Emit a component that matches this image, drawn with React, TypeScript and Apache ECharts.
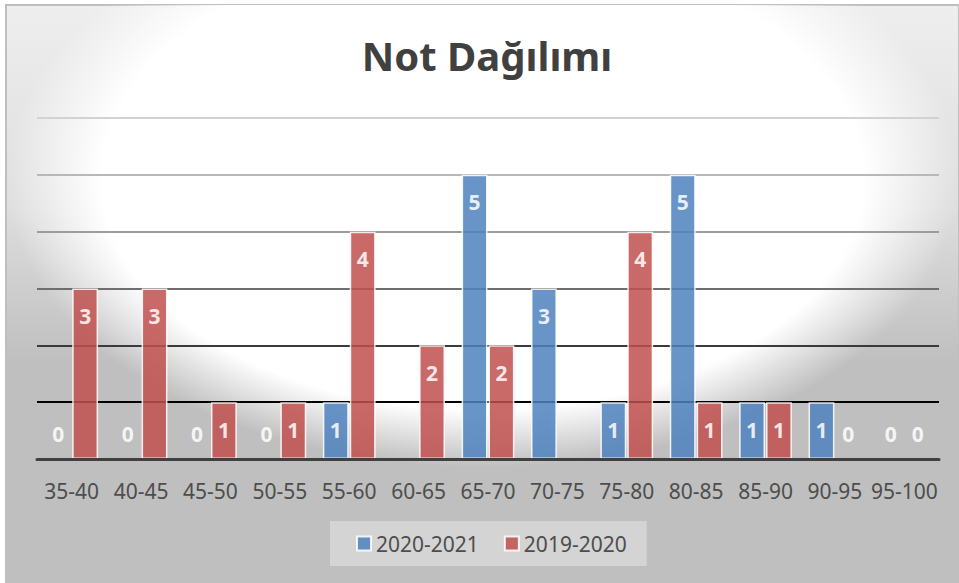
import React, { useEffect, useRef } from 'react';
import * as echarts from 'echarts';

const categories = ['35-40', '40-45', '45-50', '50-55', '55-60', '60-65', '65-70', '70-75', '75-80', '80-85', '85-90', '90-95', '95-100'];
const values2020_2021: (number | null)[] = [0, 0, 0, 0, 1, null, 5, 3, 1, 5, 1, 1, 0];
const values2019_2020: (number | null)[] = [3, 3, 1, 1, 4, 2, 2, null, 4, 1, 1, 0, 0];
const seriesNames = ['2020-2021', '2019-2020'];
const yMin = 0;
const yMax = 6;
const yInterval = 1;
const gridLineColors = ['#404040', '#000000', '#3a3a3a', '#6e6e6e', '#9c9c9c', '#b8b8b8', '#d2d2d2'];

const FONT = "'Noto Sans', 'Open Sans', sans-serif";

function toData(vals: (number | null)[]) {
  return vals.map((v) => {
    if (v === null) return null;
    if (v === 0) {
      return {
        value: 0,
        itemStyle: { borderWidth: 0, borderColor: 'transparent' },
        label: { position: 'top', distance: 15 },
      };
    }
    return { value: v };
  });
}

export default function App() {
  const ref = useRef<HTMLDivElement>(null);
  useEffect(() => {
    if (!ref.current) return;
    const chart = echarts.init(ref.current, undefined, { renderer: 'svg' });
    const barLabel = {
      show: true,
      position: 'insideTop',
      distance: 17,
      color: '#ffffff',
      fontWeight: 'bold',
      fontSize: 21,
      fontFamily: FONT,
    };
    chart.setOption({
      animation: false,
      graphic: [
        {
          type: 'rect',
          z: -100,
          silent: true,
          shape: { x: 6, y: 5, width: 953, height: 578 },
          style: {
            fill: new echarts.graphic.LinearGradient(0, 0, 0, 1, [
              { offset: 0, color: '#eeeeee' },
              { offset: 0.35, color: '#dedede' },
              { offset: 0.62, color: '#bfbfbf' },
              { offset: 1, color: '#bfbfbf' },
            ]),
            stroke: '#bfbfbf',
            lineWidth: 2,
          },
        },
        {
          type: 'rect',
          z: -99,
          silent: true,
          shape: { x: 6, y: 5, width: 953, height: 578 },
          style: {
            fill: new echarts.graphic.RadialGradient(0.5, 0.3, 0.5, [
              { offset: 0, color: 'rgba(255,255,255,1)' },
              { offset: 0.8, color: 'rgba(255,255,255,1)' },
              { offset: 1, color: 'rgba(255,255,255,0)' },
            ]),
          },
        },
      ],
      title: {
        text: 'Not Dağılımı',
        left: 487,
        textAlign: 'center',
        top: 35,
        padding: 0,
        textStyle: { fontFamily: FONT, fontSize: 40, fontWeight: 'bold', color: '#404040' },
      },
      legend: {
        data: seriesNames,
        left: 330,
        top: 521,
        backgroundColor: '#d4d4d4',
        padding: [12, 20, 12, 26],
        itemWidth: 14,
        itemHeight: 14,
        itemGap: 25,
        icon: 'rect',
        textStyle: { fontFamily: FONT, fontSize: 21, color: '#4d4d4d' },
      },
      grid: { left: 37, right: 20, top: 118, bottom: 124, containLabel: false },
      xAxis: {
        type: 'category',
        data: categories,
        z: 10,
        axisLine: { lineStyle: { color: '#404040', width: 3 } },
        axisTick: { show: false },
        axisLabel: { color: '#4d4d4d', fontSize: 21, margin: 21, fontFamily: FONT, interval: 0 },
      },
      yAxis: {
        type: 'value',
        min: yMin,
        max: yMax,
        interval: yInterval,
        axisLabel: { show: false },
        axisLine: { show: false },
        axisTick: { show: false },
        splitLine: { lineStyle: { color: gridLineColors, width: 2 } },
      },
      series: [
        {
          name: seriesNames[0],
          type: 'bar',
          data: toData(values2020_2021),
          barGap: '4%',
          barCategoryGap: '24%',
          itemStyle: { color: '#4F81BD', opacity: 0.85, borderColor: '#ffffff', borderWidth: 1.5 },
          label: barLabel,
        },
        {
          name: seriesNames[1],
          type: 'bar',
          data: toData(values2019_2020),
          barGap: '4%',
          barCategoryGap: '24%',
          itemStyle: { color: '#C0504D', opacity: 0.85, borderColor: '#ffffff', borderWidth: 1.5 },
          label: barLabel,
        },
      ],
    });
    return () => chart.dispose();
  }, []);
  return (
    <div
      ref={ref}
      style={{ position: 'absolute', left: 0, top: 0, width: 959, height: 583, background: '#ffffff' }}
    />
  );
}
